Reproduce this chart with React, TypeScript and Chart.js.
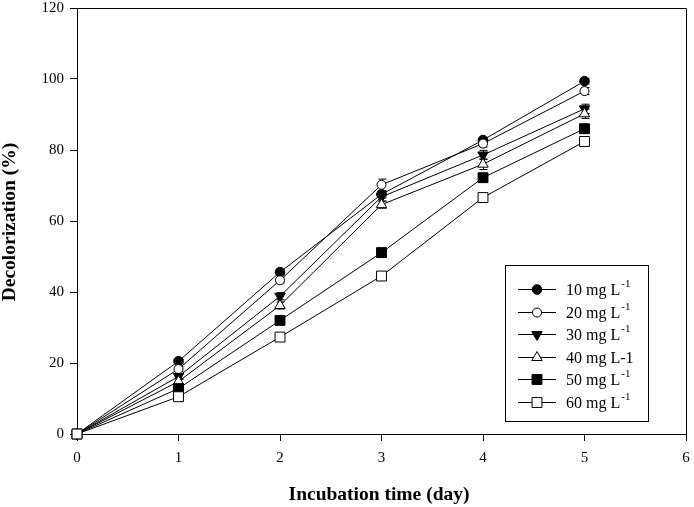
import React, { useEffect, useRef } from "react";
import { Chart, registerables } from "chart.js";

Chart.register(...registerables);

const days = [0, 1, 2, 3, 4, 5];
const xTicks = [0, 1, 2, 3, 4, 5, 6];
const yTicks = [0, 20, 40, 60, 80, 100, 120];

const seriesLabels = ["10 mg L", "20 mg L", "30 mg L", "40 mg L-1", "50 mg L", "60 mg L"];
const seriesSup = ["-1", "-1", "-1", "", "-1", "-1"];

const s10 = [0, 20.5, 45.6, 67.5, 82.8, 99.4];
const s20 = [0, 18.3, 43.3, 70.2, 81.8, 96.6];
const s30 = [0, 16.2, 38.8, 66.8, 78.6, 91.6];
const s40 = [0, 14.8, 36.2, 64.6, 76.0, 90.2];
const s50 = [0, 12.8, 32.0, 51.1, 72.2, 86.0];
const s60 = [0, 10.5, 27.3, 44.5, 66.6, 82.4];

const e10 = [0, 0.5, 0.8, 1.0, 0.8, 0.8];
const e20 = [0, 0.6, 0.8, 1.6, 1.0, 1.0];
const e30 = [0, 0.8, 1.0, 1.2, 1.3, 1.3];
const e40 = [0, 0.8, 1.0, 1.0, 1.5, 1.3];
const e50 = [0, 0.5, 0.8, 0.8, 0.8, 0.8];
const e60 = [0, 0.5, 0.8, 0.8, 0.8, 0.8];

const FONT = '"Liberation Serif", "Times New Roman", serif';

type Mk = { style: string; fill: boolean; r: number; rot: number };
const markers: Mk[] = [
  { style: "circle", fill: true, r: 4.8, rot: 0 },
  { style: "circle", fill: false, r: 4.5, rot: 0 },
  { style: "triangle", fill: true, r: 6, rot: 180 },
  { style: "triangle", fill: false, r: 6, rot: 0 },
  { style: "rect", fill: true, r: 7, rot: 0 },
  { style: "rect", fill: false, r: 7, rot: 0 },
];

function drawMarker(ctx: CanvasRenderingContext2D, m: Mk, x: number, y: number) {
  ctx.save();
  ctx.beginPath();
  if (m.style === "circle") {
    ctx.arc(x, y, m.r, 0, Math.PI * 2);
  } else if (m.style === "rect") {
    const s = Math.SQRT1_2 * m.r;
    ctx.rect(x - s, y - s, 2 * s, 2 * s);
  } else {
    const dir = m.rot === 180 ? -1 : 1;
    const r = m.r;
    ctx.moveTo(x, y - dir * r);
    ctx.lineTo(x - r * 0.866, y + dir * r * 0.5);
    ctx.lineTo(x + r * 0.866, y + dir * r * 0.5);
    ctx.closePath();
  }
  ctx.fillStyle = m.fill ? "#000" : "#fff";
  ctx.fill();
  ctx.lineWidth = 1;
  ctx.strokeStyle = "#000";
  ctx.stroke();
  ctx.restore();
}

const allSeries = [s10, s20, s30, s40, s50, s60];
const allErr = [e10, e20, e30, e40, e50, e60];

const customPlugin = {
  id: "custom",
  beforeDatasetsDraw(chart: any) {
    const ctx = chart.ctx as CanvasRenderingContext2D;
    const xs = chart.scales.x;
    const ys = chart.scales.y;
    ctx.save();
    ctx.strokeStyle = "#000";
    ctx.lineWidth = 1;
    allSeries.forEach((s, i) => {
      s.forEach((v, j) => {
        const e = allErr[i][j];
        if (!e) return;
        const x = Math.round(xs.getPixelForValue(days[j])) + 0.5;
        const y1 = ys.getPixelForValue(v + e);
        const y2 = ys.getPixelForValue(v - e);
        ctx.beginPath();
        ctx.moveTo(x, y1);
        ctx.lineTo(x, y2);
        ctx.moveTo(x - 4, y1);
        ctx.lineTo(x + 4, y1);
        ctx.moveTo(x - 4, y2);
        ctx.lineTo(x + 4, y2);
        ctx.stroke();
      });
    });
    ctx.restore();
  },
  afterDraw(chart: any) {
    const ctx = chart.ctx as CanvasRenderingContext2D;
    const a = chart.chartArea;
    ctx.save();
    ctx.strokeStyle = "#000";
    ctx.lineWidth = 1;
    ctx.beginPath();
    ctx.moveTo(Math.round(a.left) + 0.5, Math.round(a.top) + 0.5);
    ctx.lineTo(Math.round(a.right) + 0.5, Math.round(a.top) + 0.5);
    ctx.lineTo(Math.round(a.right) + 0.5, Math.round(a.bottom) + 0.5);
    ctx.stroke();

    // axis titles
    ctx.fillStyle = "#000";
    ctx.font = `bold 19.5px ${FONT}`;
    ctx.textAlign = "center";
    ctx.textBaseline = "middle";
    ctx.fillText("Incubation time (day)", 379, 495);
    ctx.save();
    ctx.translate(10, 222);
    ctx.rotate(-Math.PI / 2);
    ctx.fillText("Decolorization (%)", 0, 0);
    ctx.restore();

    // legend
    const bx = 505.5, by = 265.5, bw = 143, bh = 156;
    ctx.fillStyle = "#fff";
    ctx.fillRect(bx, by, bw, bh);
    ctx.strokeStyle = "#000";
    ctx.strokeRect(bx, by, bw, bh);
    seriesLabels.forEach((lab, i) => {
      const y = 289 + i * 22.6;
      ctx.beginPath();
      ctx.moveTo(518, Math.round(y) + 0.5);
      ctx.lineTo(556, Math.round(y) + 0.5);
      ctx.strokeStyle = "#000";
      ctx.lineWidth = 1;
      ctx.stroke();
      drawMarker(ctx, markers[i], 537, Math.round(y) + 0.5);
      ctx.fillStyle = "#000";
      ctx.font = `16px ${FONT}`;
      ctx.textAlign = "left";
      ctx.textBaseline = "alphabetic";
      ctx.fillText(lab, 566, y + 6);
      if (seriesSup[i]) {
        const w = ctx.measureText(lab).width;
        ctx.font = `11px ${FONT}`;
        ctx.fillText(seriesSup[i], 566 + w + 1, y - 2);
      }
    });
    ctx.restore();
  },
};

export default function App() {
  const ref = useRef<HTMLCanvasElement | null>(null);
  useEffect(() => {
    if (!ref.current) return;
    const datasets = allSeries.map((s, i) => ({
      label: seriesLabels[i] + seriesSup[i],
      data: s.map((v, j) => ({ x: days[j], y: v })),
      borderColor: "#000",
      borderWidth: 1,
      backgroundColor: markers[i].fill ? "#000" : "#fff",
      pointStyle: markers[i].style as any,
      pointRadius: markers[i].r,
      pointRotation: markers[i].rot,
      pointBorderColor: "#000",
      pointBorderWidth: 1,
      pointBackgroundColor: markers[i].fill ? "#000" : "#fff",
      fill: false,
      tension: 0,
      clip: false as any,
    }));
    const chart = new Chart(ref.current, {
      type: "line",
      data: { datasets: datasets.reverse() as any },
      plugins: [customPlugin],
      options: {
        animation: false,
        responsive: false,
        devicePixelRatio: 1,
        layout: { padding: { top: 7, right: 6, left: 0, bottom: 0 } },
        plugins: { legend: { display: false }, tooltip: { enabled: false } },
        scales: {
          x: {
            type: "linear",
            min: 0,
            max: 6,
            afterBuildTicks: (s: any) => {
              s.ticks = xTicks.map((v) => ({ value: v }));
            },
            afterFit: (s: any) => {
              s.height = 73;
              s.paddingLeft = 0;
              s.paddingRight = 0;
              s.paddingTop = 0;
              s.paddingBottom = 0;
            },
            grid: { drawOnChartArea: false, drawTicks: true, tickLength: 7, color: "#000" },
            border: { display: true, color: "#000", width: 1 },
            ticks: { color: "#000", font: { family: FONT, size: 15 }, padding: 8, maxRotation: 0 },
          },
          y: {
            type: "linear",
            min: 0,
            max: 120,
            afterBuildTicks: (s: any) => {
              s.ticks = yTicks.map((v) => ({ value: v }));
            },
            afterFit: (s: any) => {
              s.width = 77;
              s.paddingLeft = 0;
              s.paddingRight = 0;
              s.paddingTop = 0;
              s.paddingBottom = 0;
            },
            grid: { drawOnChartArea: false, drawTicks: true, tickLength: 7, color: "#000" },
            border: { display: true, color: "#000", width: 1 },
            ticks: { color: "#000", font: { family: FONT, size: 15 }, padding: 6 },
          },
        },
      },
    });
    return () => chart.destroy();
  }, []);
  return (
    <div style={{ position: "absolute", left: 0, top: 0, width: 694, height: 507, background: "#fff" }}>
      <canvas ref={ref} width={694} height={507} style={{ width: 694, height: 507 }} />
    </div>
  );
}
